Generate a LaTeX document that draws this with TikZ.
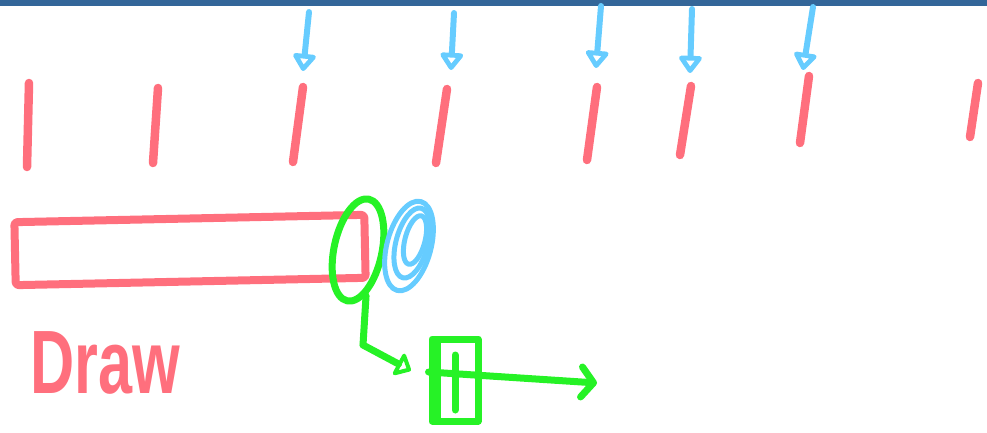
\documentclass[tikz,border=0pt]{standalone}
\usepackage{fontspec}
\setmainfont{Liberation Sans}
\usetikzlibrary{positioning, arrows.meta, shapes.geometric}

\definecolor{barblue}{RGB}{51,102,153}
\definecolor{penred}{RGB}{255,111,125}
\definecolor{penblue}{RGB}{102,204,255}
\definecolor{pengreen}{RGB}{38,242,38}

\begin{document}
\begin{tikzpicture}[x=1pt, y=-1pt, line cap=round, line join=round,
  tick/.style={draw=penred, line width=8.5pt},
  drop/.style={draw=penblue, line width=6pt, -{Triangle[open, round, length=19pt, width=26pt, line width=5.5pt]}},
  loop/.style={draw=penblue, line width=5pt, ellipse, inner sep=0pt, rotate=-15},
  wire/.style={draw=pengreen, line width=7pt},
  tubebox/.style={draw=penred, line width=8pt, rounded corners=3pt, minimum width=350pt, minimum height=63pt, inner sep=0pt}]
\useasboundingbox (0,0) rectangle (987,433);
\fill[barblue] (0,0) rectangle (987,6);

% timeline ticks
\foreach \xa/\ya/\xb/\yb [count=\i] in {29/83/27/167, 158/88/153/163, 303/87/293/162, 447/89/436/163,
    597/87/587/160, 691/86/680/155, 809/76/800/143, 978/83/970/137}
  \draw[tick] (\xa,\ya) coordinate (t\i) -- (\xb,\yb) coordinate (b\i);

% incoming events
\foreach \xa/\ya/\xb/\yb [count=\i] in {309/12/303/71, 454/13/451/70, 601/6/596/68, 692/9/690/73, 813/7/803/70} {
  \coordinate (s\i) at (\xa,\ya);
  \coordinate (e\i) at (\xb,\yb);
  \draw[drop] (s\i) -- (e\i);
}

\node[tubebox, rotate=1.2] (tube) at (190,250) {};
\node[draw=pengreen, line width=7pt, ellipse, inner sep=0pt, minimum width=48pt, minimum height=104pt, rotate=-12] (ring) at (358,250) {};
\node[loop, minimum width=44pt, minimum height=92pt] (lens) at (409,246) {};
\node[loop, minimum width=32pt, minimum height=72pt] (lens2) at (412,243) {};
\node[loop, minimum width=20pt, minimum height=50pt] (lens3) at (415,240) {};

\node[draw=pengreen, line width=7pt, inner sep=0pt, minimum width=46pt, minimum height=82pt] (box) at (455,380) {};
\draw[wire] ([yshift=25pt]box.center) -- ([yshift=-30pt]box.center);
\draw[wire] ([xshift=9pt, yshift=-4pt]box.north west) -- ([xshift=9pt, yshift=4pt]box.south west);

\draw[wire] (ring.-68) -- (363,345) coordinate (bend);
\draw[wire, shorten >=20pt, -{Triangle[open, round, length=16pt, width=28pt, line width=6pt]}] (bend) -- (box.west);

\coordinate (out) at (597,383);
\draw[wire, -{Straight Barb[round, length=12pt, width=30pt, line width=7pt]}] ([yshift=8pt]box.west) -- (out);

\node[text=penred, font=\fontsize{90}{90}\selectfont\bfseries, xscale=0.68, inner sep=0pt, anchor=base west] (lbl) at (30,393) {Draw};
\end{tikzpicture}
\end{document}
